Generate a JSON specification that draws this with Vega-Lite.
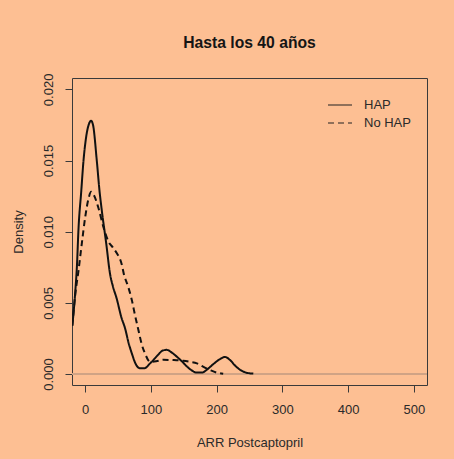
{
  "$schema": "https://vega.github.io/schema/vega-lite/v6.json",
  "width": 355,
  "height": 307,
  "autosize": {"type": "none"},
  "padding": {"left": 72, "top": 78, "right": 27, "bottom": 74},
  "background": "#FDBF93",
  "config": {
    "view": {"stroke": "#3a3a3a", "strokeWidth": 1},
    "font": "Liberation Sans",
    "axis": {"labelFont": "Liberation Sans", "titleFont": "Liberation Sans", "labelColor": "#2a2a2a", "titleColor": "#2a2a2a", "tickColor": "#3a3a3a", "grid": false, "domain": false, "labelFontSize": 13, "titleFontSize": 13, "titleFontWeight": "normal", "tickSize": 7}
  },
  "title": {"text": "Hasta los 40 años", "fontSize": 15.7, "fontWeight": "bold", "color": "#151515", "anchor": "middle", "offset": 21, "font": "Liberation Sans"},
  "data": {
    "values": [
      {"g": "HAP", "x": -19.5, "y": 0.0034},
      {"g": "HAP", "x": -15, "y": 0.0058},
      {"g": "HAP", "x": -12.6, "y": 0.0075},
      {"g": "HAP", "x": -10, "y": 0.0103},
      {"g": "HAP", "x": -6, "y": 0.0128},
      {"g": "HAP", "x": -2.5, "y": 0.015},
      {"g": "HAP", "x": 2, "y": 0.0168},
      {"g": "HAP", "x": 6, "y": 0.0176},
      {"g": "HAP", "x": 9, "y": 0.0178},
      {"g": "HAP", "x": 12, "y": 0.0175},
      {"g": "HAP", "x": 17.7, "y": 0.015},
      {"g": "HAP", "x": 22, "y": 0.0128},
      {"g": "HAP", "x": 25.3, "y": 0.0115},
      {"g": "HAP", "x": 32, "y": 0.0092},
      {"g": "HAP", "x": 38, "y": 0.007},
      {"g": "HAP", "x": 42, "y": 0.0062},
      {"g": "HAP", "x": 48, "y": 0.0053},
      {"g": "HAP", "x": 55, "y": 0.004},
      {"g": "HAP", "x": 60.8, "y": 0.0032},
      {"g": "HAP", "x": 66, "y": 0.0022},
      {"g": "HAP", "x": 71, "y": 0.00145},
      {"g": "HAP", "x": 77, "y": 0.0007},
      {"g": "HAP", "x": 83.6, "y": 0.0004},
      {"g": "HAP", "x": 90, "y": 0.0004},
      {"g": "HAP", "x": 98.8, "y": 0.00075},
      {"g": "HAP", "x": 110, "y": 0.0013},
      {"g": "HAP", "x": 118, "y": 0.00165},
      {"g": "HAP", "x": 124, "y": 0.0017},
      {"g": "HAP", "x": 132, "y": 0.0015},
      {"g": "HAP", "x": 140, "y": 0.0012},
      {"g": "HAP", "x": 147, "y": 0.0009},
      {"g": "HAP", "x": 158, "y": 0.0004},
      {"g": "HAP", "x": 170, "y": 0.0001},
      {"g": "HAP", "x": 178, "y": 0.0001},
      {"g": "HAP", "x": 185, "y": 0.0003},
      {"g": "HAP", "x": 195, "y": 0.0007},
      {"g": "HAP", "x": 205, "y": 0.00105},
      {"g": "HAP", "x": 212.8, "y": 0.0012},
      {"g": "HAP", "x": 220, "y": 0.001},
      {"g": "HAP", "x": 228, "y": 0.0006},
      {"g": "HAP", "x": 235.6, "y": 0.0003},
      {"g": "HAP", "x": 245, "y": 0.0001},
      {"g": "HAP", "x": 255.8, "y": 0.00003},
      {"g": "No HAP", "x": -19.5, "y": 0.0034},
      {"g": "No HAP", "x": -15, "y": 0.0056},
      {"g": "No HAP", "x": -10, "y": 0.0073},
      {"g": "No HAP", "x": -5, "y": 0.0092},
      {"g": "No HAP", "x": 0, "y": 0.011},
      {"g": "No HAP", "x": 5, "y": 0.0123},
      {"g": "No HAP", "x": 9.1, "y": 0.0128},
      {"g": "No HAP", "x": 13, "y": 0.0126},
      {"g": "No HAP", "x": 20, "y": 0.0117},
      {"g": "No HAP", "x": 28, "y": 0.0103},
      {"g": "No HAP", "x": 35.5, "y": 0.0093},
      {"g": "No HAP", "x": 42, "y": 0.0089},
      {"g": "No HAP", "x": 48, "y": 0.0085},
      {"g": "No HAP", "x": 55.7, "y": 0.0077},
      {"g": "No HAP", "x": 59, "y": 0.007},
      {"g": "No HAP", "x": 65, "y": 0.0062},
      {"g": "No HAP", "x": 71, "y": 0.0052},
      {"g": "No HAP", "x": 76, "y": 0.0041},
      {"g": "No HAP", "x": 81, "y": 0.0031},
      {"g": "No HAP", "x": 86, "y": 0.0021},
      {"g": "No HAP", "x": 91, "y": 0.00145},
      {"g": "No HAP", "x": 98.8, "y": 0.00086},
      {"g": "No HAP", "x": 108, "y": 0.0009},
      {"g": "No HAP", "x": 119, "y": 0.001},
      {"g": "No HAP", "x": 135, "y": 0.00098},
      {"g": "No HAP", "x": 149, "y": 0.00093},
      {"g": "No HAP", "x": 160, "y": 0.00085},
      {"g": "No HAP", "x": 170, "y": 0.00075},
      {"g": "No HAP", "x": 180, "y": 0.0005},
      {"g": "No HAP", "x": 190, "y": 0.00028},
      {"g": "No HAP", "x": 200, "y": 0.0001},
      {"g": "No HAP", "x": 210, "y": 0.00002}
    ]
  },
  "layer": [
    {
      "mark": {"type": "rule", "color": "#d0a486", "strokeWidth": 1},
      "encoding": {"y": {"datum": 0, "type": "quantitative"}}
    },
    {
      "mark": {"type": "line", "interpolate": "monotone", "color": "#111111", "strokeWidth": 2, "clip": true},
      "encoding": {
        "x": {
          "field": "x", "type": "quantitative",
          "scale": {"domain": [-20, 520], "nice": false, "zero": false},
          "axis": {"values": [0, 100, 200, 300, 400, 500], "title": "ARR Postcaptopril", "labelPadding": 11, "titlePadding": 20}
        },
        "y": {
          "field": "y", "type": "quantitative",
          "scale": {"domain": [-0.00077, 0.0208], "nice": false, "zero": false},
          "axis": {"values": [0, 0.005, 0.01, 0.015, 0.02], "format": ".3f", "title": "Density", "labelAngle": 270, "labelAlign": "center", "labelBaseline": "bottom", "labelPadding": 10, "titlePadding": 17}
        },
        "strokeDash": {
          "field": "g", "type": "nominal",
          "scale": {"domain": ["HAP", "No HAP"], "range": [[1, 0], [6, 4]]},
          "legend": {"title": null, "orient": "none", "legendX": 261, "legendY": 20, "padding": 0, "symbolType": "M-2,0H2", "symbolSize": 144, "symbolStrokeWidth": 1.2, "symbolStrokeColor": "#222", "symbolFillColor": "transparent", "labelFontSize": 13, "labelColor": "#2a2a2a", "labelOffset": 17, "rowPadding": 4, "labelFont": "Liberation Sans"}
        }
      }
    }
  ]
}
